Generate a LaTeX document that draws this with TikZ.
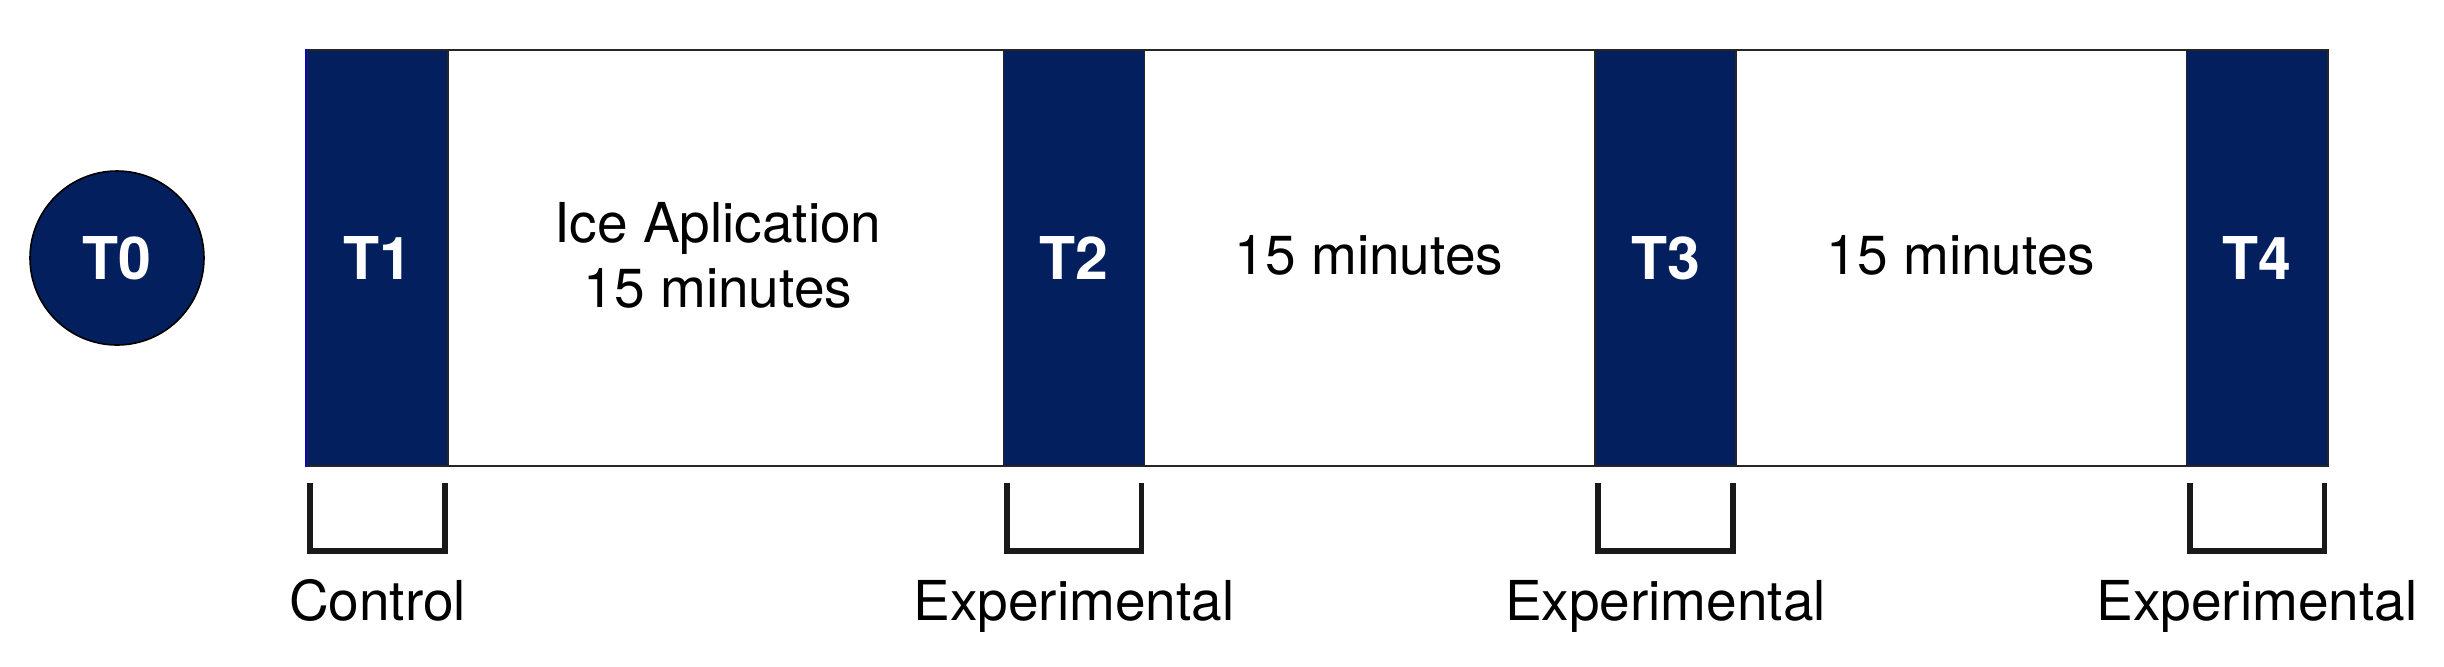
\documentclass[tikz,border=0pt]{standalone}
\usepackage{fontspec}
\setmainfont{TeX Gyre Heros}
\usetikzlibrary{calc}
\definecolor{navy}{RGB}{3,31,94}
\begin{document}
\begin{tikzpicture}[x=0.5pt,y=-0.5pt,
  bar/.style={draw=black!85, line width=0.8pt, fill=navy, text=white, inner sep=0pt,
    minimum width=70.5pt, minimum height=208pt, font=\fontsize{29.5}{35}\selectfont\bfseries},
  tzero/.style={circle, draw=black, line width=0.8pt, fill=navy, text=white, inner sep=0pt,
    minimum size=87pt, font=\fontsize{29.5}{35}\selectfont\bfseries},
  frame/.style={draw=black!85, line width=1pt, inner sep=0pt, minimum width=1010.5pt, minimum height=208pt},
  lbl/.style={font=\fontsize{27.5}{32.5}\selectfont, inner sep=0pt, align=center},
  brk/.style={line width=2.8pt, draw=black!90}]
\useasboundingbox (0,0) rectangle (2444,666);
\node[frame] (frm) at (1317.5,258) {};
\node[tzero] (T0) at (117,258) {T0};
\node[bar] (T1) at (377.5,258) {T1};
\node[bar] (T2) at (1074,258) {T2};
\node[bar] (T3) at (1665.5,258) {T3};
\node[bar] (T4) at (2257,258) {T4};
\draw[blue!85!black, line width=1pt] (T1.north west) -- (T1.south west);
\node[lbl] (ice) at (718,255) {Ice Aplication\\15 minutes};
\node[lbl, anchor=base] (m2) at (1369,274) {15 minutes};
\node[lbl, anchor=base] (m3) at (1961,274) {15 minutes};
\foreach \t/\txt in {T1/Control, T2/Experimental, T3/Experimental, T4/Experimental}{
  \draw[brk] ($(\t.south west)+(4,16)$) -- ($(\t.south west)+(4,84)$) -- ($(\t.south east)+(-4,84)$) -- ($(\t.south east)+(-4,16)$);
  \node[lbl, anchor=base] (L\t) at ($(\t.south)+(0,154)$) {\txt};
}
\end{tikzpicture}
\end{document}
